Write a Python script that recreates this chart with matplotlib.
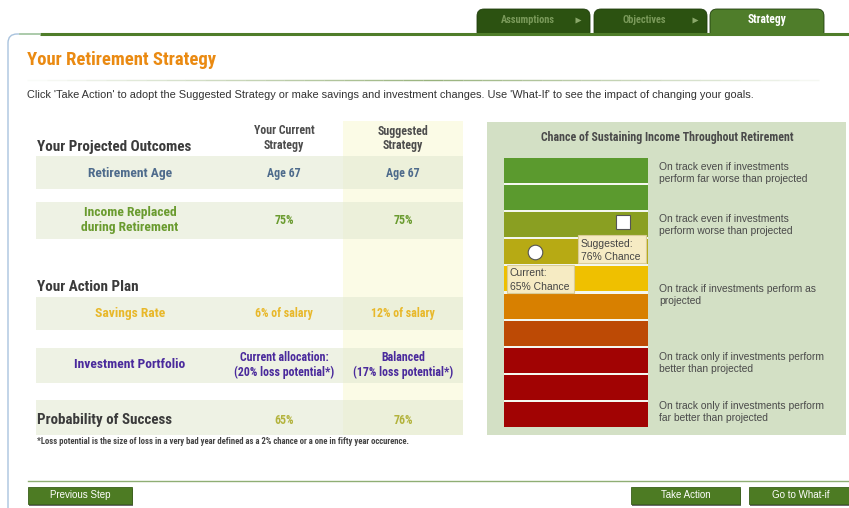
import matplotlib
matplotlib.use("Agg")
import matplotlib.pyplot as plt
from matplotlib import font_manager
from matplotlib.font_manager import FontProperties
from matplotlib.patches import Rectangle, FancyBboxPatch

# data
tabs = ["Assumptions", "Objectives", "Strategy"]
columns = ["Your Current\nStrategy", "Suggested\nStrategy"]
row_labels = ["Retirement Age", "Income Replaced\nduring Retirement", "Savings Rate", "Investment Portfolio"]
current_vals = ["Age 67", "75%", "6% of salary", "Current allocation:\n(20% loss potential*)"]
suggested_vals = ["Age 67", "75%", "12% of salary", "Balanced\n(17% loss potential*)"]
prob_current = 65
prob_suggested = 76
band_lo = [90, 80, 70, 60, 50, 40, 30, 20, 10, 0]
band_colors = ["#5b9a2e", "#5b9a2e", "#8a9f22", "#b7aa14", "#efc000",
               "#d88000", "#bd4a05", "#a10303", "#a10303", "#a10303"]
band_notes = ["On track even if investments\nperform far worse than projected",
              "On track even if investments\nperform worse than projected",
              "On track if investments perform as\nprojected",
              "On track only if investments perform\nbetter than projected",
              "On track only if investments perform\nfar better than projected"]
note_levels = [94, 75, 49, 24, 6]


def wnum(w):
    if isinstance(w, (int, float)):
        return w
    return font_manager.weight_dict.get(str(w), 400)


# look for a condensed bold face, the screenshot uses Helvetica Condensed
narrow_file = None
best = 99
for f in font_manager.fontManager.ttflist:
    n = f.name.lower()
    narrowish = "narrow" in n or "condensed" in n or f.stretch in ("condensed", "semi-condensed")
    if not narrowish or f.style != "normal" or wnum(f.weight) < 600 or wnum(f.weight) > 750:
        continue
    rank = 5
    if "liberation" in n:
        rank = 0
    elif "roboto" in n:
        rank = 1
    elif "dejavu" in n:
        rank = 2
    elif "noto" in n or "open" in n:
        rank = 3
    if rank < best:
        best, narrow_file = rank, f.fname

names = {f.name for f in font_manager.fontManager.ttflist}
REG = "Liberation Sans" if "Liberation Sans" in names else "DejaVu Sans"
k = 1.0 if narrow_file else 0.9


def nt(x, y, s, size, color, **kw):
    kw.setdefault("va", "center")
    if narrow_file:
        fp = FontProperties(fname=narrow_file, size=size * k)
    else:
        fp = FontProperties(family=REG, weight="bold", size=size * k)
    ax.text(x, y, s, fontproperties=fp, color=color, **kw)


fig = plt.figure(figsize=(8.49, 5.08), dpi=100)
ax = fig.add_axes([0, 0, 1, 1])
ax.set_xlim(0, 849)
ax.set_ylim(508, 0)
ax.axis("off")

# tabs
tab_x = [(477, 590), (594, 707), (710, 824)]
for (x0, x1), name in zip(tab_x, tabs):
    active = name == "Strategy"
    ax.add_patch(FancyBboxPatch((x0, 9), x1 - x0, 30, boxstyle="round,pad=0,rounding_size=7",
                                fc="#4f7d2a" if active else "#2c5211", ec="#1f3d0c", lw=0.6))
    if active:
        nt((x0 + x1) / 2, 20, name, 8.3, "white", ha="center")
    else:
        nt((x0 + x1) / 2 - 6, 20, name, 7.5, "#7a9a5a", ha="center")
        ax.plot(x1 - 12, 20, marker=">", ms=4, color="#8aa86a", mec="none")

# main panel
ax.add_patch(FancyBboxPatch((8, 34), 900, 600, boxstyle="round,pad=0,rounding_size=9",
                            fc="white", ec="#a9c3de", lw=1.0))
ax.plot([40, 849], [34, 34], color="#4f7d2a", lw=2.2, solid_capstyle="butt")
ax.plot([20, 40], [34, 34], color="#a9c9a0", lw=1.2)

nt(27, 60, "Your Retirement Strategy", 13.4, "#ea8a12")
for i in range(40):
    a = 1 - abs(i - 20) / 21
    ax.plot([27 + i * 19.8, 27 + (i + 1) * 19.8], [80, 80], color="#7f9f5c",
            alpha=a * 0.8, lw=1.0, solid_capstyle="butt")
ax.text(27, 95, "Click 'Take Action' to adopt the Suggested Strategy or make savings and investment "
        "changes. Use 'What-If' to see the impact of changing your goals.",
        fontsize=7.95, color="#333333", family=REG, va="center")

# left table
ax.add_patch(Rectangle((343, 121), 120, 314, fc="#fbfbe6", ec="none"))
bands = [(156, 189), (202, 239), (297, 330), (348, 383), (400, 435)]
for y0, y1 in bands:
    ax.add_patch(Rectangle((36, y0), 427, y1 - y0, fc="#e3ead2", ec="none", alpha=0.6))

for cx, col in zip([284, 403], columns):
    nt(cx, 138.5, col, 8.6, "#4d4d4d", ha="center", linespacing=1.2)
nt(37, 147, "Your Projected Outcomes", 10.9, "#3b3b3b")
nt(37, 287, "Your Action Plan", 10.9, "#3b3b3b")

label_colors = ["#4e6b8c", "#6a9b2f", "#e8b82a", "#4a2a9c"]
row_y = [173, 220, 314, 365]
for lab, cv, sv, y, lc in zip(row_labels, current_vals, suggested_vals, row_y, label_colors):
    nt(130, y, lab, 9.7, lc, ha="center", linespacing=1.15)
    nt(284, y, cv, 8.6, lc, ha="center", linespacing=1.25)
    nt(403, y, sv, 8.6, lc, ha="center", linespacing=1.25)

nt(37, 420, "Probability of Success", 10.8, "#3b3b3b")
nt(284, 420, f"{prob_current}%", 8.6, "#b3b33c", ha="center")
nt(403, 420, f"{prob_suggested}%", 8.6, "#b3b33c", ha="center")
nt(37, 441, "*Loss potential is the size of loss in a very bad year defined as a 2% chance "
    "or a one in fifty year occurence.", 6.2, "#444444")

# bottom line and buttons
ax.plot([28, 849], [481, 481], color="#8fae74", lw=1.0)
for (x0, x1), lab in zip([(28, 132), (631, 740), (749, 852)],
                         ["Previous Step", "Take Action", "Go to What-if"]):
    ax.add_patch(Rectangle((x0 + 1.5, 488.5), x1 - x0, 17, fc="#6b6b6b", ec="none"))
    ax.add_patch(Rectangle((x0, 487), x1 - x0, 17, fc="#4d7b23", ec="#3a5f1a", lw=0.6))
    ax.text((x0 + x1) / 2, 495.5, lab, fontsize=7, color="white", family=REG,
            ha="center", va="center")

# right panel
ax.add_patch(Rectangle((487, 122), 359, 313, fc="#d3e0c5", ec="none"))
nt(667, 138, "Chance of Sustaining Income Throughout Retirement", 8.6, "#4a4a4a", ha="center")

gx0, gx1, gtop, gbot = 504, 648, 157, 428
gax = fig.add_axes([gx0 / 849, 1 - gbot / 508, (gx1 - gx0) / 849, (gbot - gtop) / 508])
gax.set_xlim(0, 1)
gax.set_ylim(0, 100)
gax.axis("off")
gax.add_patch(Rectangle((0, 0.5), 1, 99, fc="#f4f7ef", ec="none"))
gax.barh([b + 5 for b in band_lo], [1] * len(band_lo), height=9.2, left=0,
         color=band_colors, edgecolor="none")

for note, lvl in zip(band_notes, note_levels):
    gax.text(1.076, lvl, note, fontsize=7.35, color="#4a4a4a",
             family=REG, va="center", linespacing=1.25, clip_on=False)

# markers
gax.plot(0.215, prob_current, marker="o", ms=10.5, mfc="white", mec="#555555", mew=0.8)
gax.plot(0.826, prob_suggested, marker="s", ms=10.5, mfc="white", mec="#555555", mew=0.8)

# callouts
gax.add_patch(Rectangle((0.514, 60.9), 0.472, 10.4, fc="#f6ebc3", ec="#d9cc98", lw=0.8))
gax.text(0.535, 67.9, "Suggested:", fontsize=7.5, color="#444444", family=REG, va="center")
gax.text(0.535, 63.1, f"{prob_suggested}% Chance", fontsize=7.5, color="#444444",
         family=REG, va="center")
gax.add_patch(Rectangle((0.021, 49.7), 0.465, 10.4, fc="#f6ebc3", ec="#d9cc98", lw=0.8))
gax.text(0.04, 57.2, "Current:", fontsize=7.5, color="#444444", family=REG, va="center")
gax.text(0.04, 52.0, f"{prob_current}% Chance", fontsize=7.5, color="#444444",
         family=REG, va="center")

fig.savefig("out.png", dpi=100)
